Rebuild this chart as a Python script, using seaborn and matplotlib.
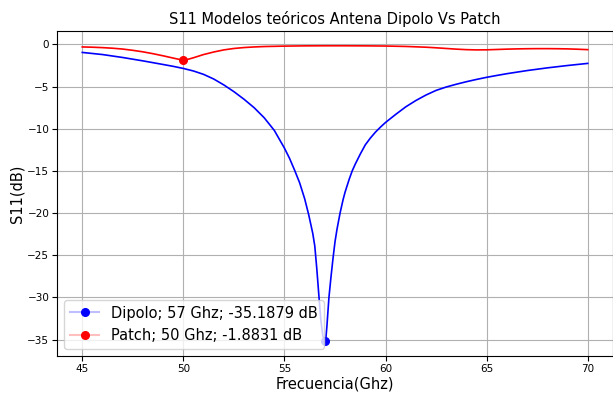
import numpy as np
import pandas as pd
import matplotlib
matplotlib.use("Agg")
import matplotlib.pyplot as plt
import seaborn as sns

# Dipole S11 (dB)
dip_f = [45, 46, 47, 48, 49, 49.5, 50, 50.5, 51, 51.5, 52, 52.5, 53, 53.5, 54, 54.5,
         55, 55.25, 55.5, 55.75, 56, 56.2, 56.4, 56.5, 56.6, 56.7, 56.8, 56.9, 57,
         57.05, 57.1, 57.2, 57.3, 57.4, 57.5, 57.6, 57.75, 57.9, 58, 58.2, 58.35,
         58.5, 58.75, 59, 59.25, 59.5, 59.75, 60, 60.5, 61, 61.5, 62, 62.5, 63, 63.5,
         64, 64.5, 65, 65.5, 66, 67, 68, 69, 70]
dip_s = [-0.95, -1.2, -1.55, -1.95, -2.38, -2.6, -2.85, -3.15, -3.55, -4.1, -4.8,
         -5.6, -6.5, -7.5, -8.7, -10.2, -12.3, -13.5, -14.9, -16.4, -18.3, -20.2,
         -22.4, -23.9, -26.6, -29.7, -32.7, -34.6, -35.1879, -34.8, -33.4, -30.0,
         -27.6, -25.4, -23.4, -21.9, -20.0, -18.4, -17.5, -16.0, -15.0, -14.2, -13.0,
         -11.9, -11.1, -10.4, -9.8, -9.25, -8.3, -7.4, -6.65, -6.0, -5.45, -5.05,
         -4.72, -4.42, -4.15, -3.9, -3.68, -3.47, -3.1, -2.78, -2.5, -2.25]

# Patch S11 (dB)
pat_f = [45, 45.5, 46, 46.5, 47, 47.5, 48, 48.5, 49, 49.5, 50, 50.25, 50.5, 51,
         51.5, 52, 52.5, 53, 53.5, 54, 55, 56, 57, 58, 59, 60, 61, 62, 62.5, 63,
         63.5, 64, 64.5, 65, 65.5, 66, 66.5, 67, 67.5, 68, 68.5, 69, 69.5, 70]
pat_s = [-0.3, -0.33, -0.38, -0.45, -0.55, -0.7, -0.88, -1.1, -1.35, -1.62, -1.8831,
         -1.75, -1.58, -1.2, -0.9, -0.65, -0.48, -0.37, -0.3, -0.25, -0.2, -0.17,
         -0.16, -0.16, -0.17, -0.19, -0.24, -0.33, -0.4, -0.48, -0.56, -0.62, -0.65,
         -0.64, -0.6, -0.56, -0.53, -0.51, -0.5, -0.5, -0.51, -0.53, -0.57, -0.62]

dip_min = (57, -35.1879)
pat_min = (50, -1.8831)
labels = ["Dipolo; 57 Ghz; -35.1879 dB", "Patch; 50 Ghz; -1.8831 dB"]

df_d = pd.DataFrame({"f": dip_f, "s": dip_s})
df_p = pd.DataFrame({"f": pat_f, "s": pat_s})

fig = plt.figure(figsize=(6.13, 3.93), dpi=100)
ax = fig.add_axes([57/613, 1-356/393, 1-57/613, (356-31)/393])

sns.lineplot(data=df_d, x="f", y="s", color="blue", lw=1.2, ax=ax)
sns.lineplot(data=df_p, x="f", y="s", color="red", lw=1.2, ax=ax)

ax.plot([dip_min[0]], [dip_min[1]], marker="o", ms=5.5, color=(0, 0, 1, 0.25),
        mfc="blue", mec="blue", label=labels[0])
ax.plot([pat_min[0]], [pat_min[1]], marker="o", ms=5.5, color=(1, 0, 0, 0.25),
        mfc="red", mec="red", label=labels[1])

ax.grid(True, color="#b0b0b0", lw=0.8)
ax.set_axisbelow(True)
ax.set_title("S11 Modelos teóricos Antena Dipolo Vs Patch", fontsize=10.5, pad=5)
ax.set_xlabel("Frecuencia(Ghz)", fontsize=10.5, labelpad=2)
ax.set_ylabel("S11(dB)", fontsize=10.5, labelpad=2)
ax.tick_params(labelsize=7.5, pad=2)
ax.set_xticks([45, 50, 55, 60, 65, 70])
ax.set_yticks([0, -5, -10, -15, -20, -25, -30, -35])
ax.legend(loc="lower left", fontsize=10.5, handlelength=2.0)

fig.savefig("out.png", dpi=100)
